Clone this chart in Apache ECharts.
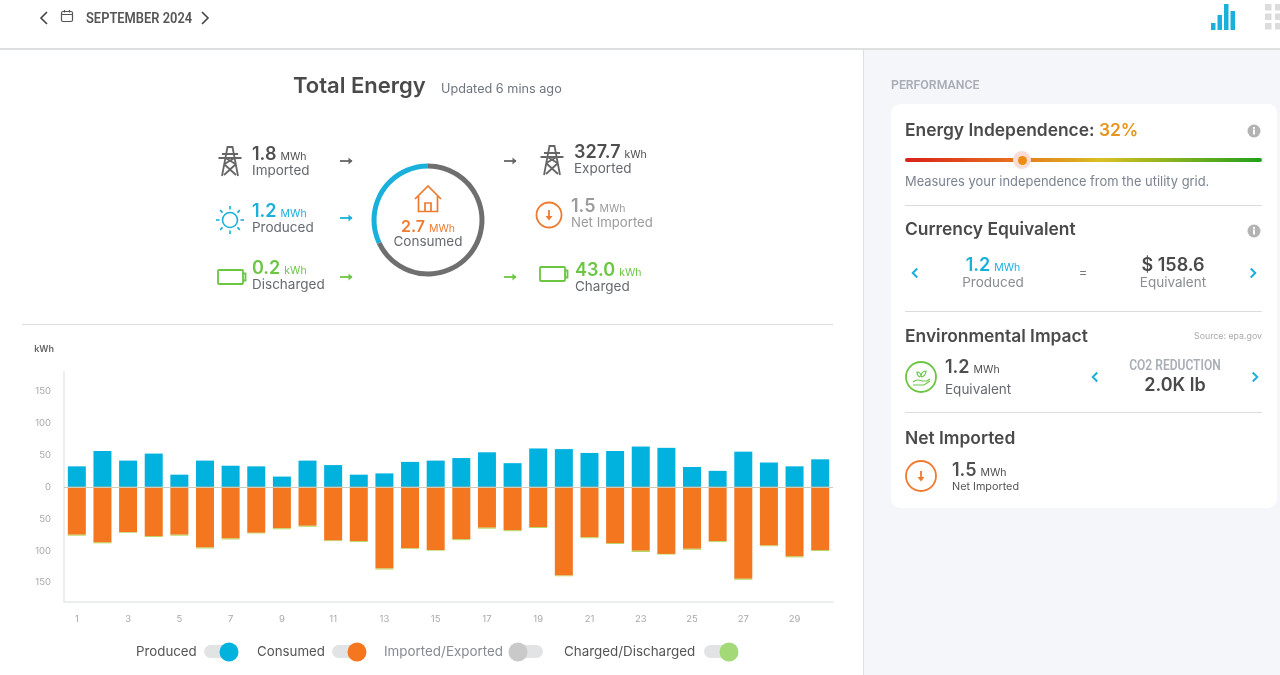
<!DOCTYPE html>
<html><head><meta charset="utf-8">
<script src="https://cdn.jsdelivr.net/npm/echarts@6/dist/echarts.min.js"></script>
<style>
html,body{margin:0;padding:0;width:1280px;height:675px;overflow:hidden;background:#fff;font-family:Inter,"Noto Sans",sans-serif}
.a{position:absolute}
.t{position:absolute;white-space:nowrap;line-height:1;z-index:3}
#chart{position:absolute;left:0;top:0;width:1280px;height:675px;z-index:2}
svg{position:absolute;overflow:visible;z-index:3;left:0;top:0}
.narrow{font-family:Roboto,sans-serif;font-weight:600}
</style></head><body>
<div class="a" style="left:863px;top:50px;width:417px;height:625px;background:#f4f6fa;border-left:1px solid #dcdfe3;box-sizing:border-box"></div>
<div class="a" style="left:0;top:48px;width:1280px;height:2px;background:#dedfe1"></div>
<div class="a" style="left:891px;top:104px;width:386px;height:404px;background:#fff;border-radius:9px"></div>
<div class="a" style="left:22px;top:324px;width:811px;height:1px;background:#dcdcdc"></div>
<div class="a" style="left:905px;top:205px;width:357px;height:1px;background:#dcdcdc"></div>
<div class="a" style="left:905px;top:311px;width:357px;height:1px;background:#dcdcdc"></div>
<div class="a" style="left:905px;top:412px;width:357px;height:1px;background:#dcdcdc"></div>
<div class="a" style="left:905px;top:158px;width:357px;height:4px;border-radius:2px;background:linear-gradient(90deg,#d9201c 0%,#e8701c 30%,#d8c022 55%,#21a01a 100%)"></div>
<div class="a" style="left:1013px;top:151px;width:18px;height:18px;border-radius:50%;background:#f9dcd4;z-index:1"></div>
<div class="a" style="left:1017.5px;top:155.5px;width:9px;height:9px;border-radius:50%;background:#ef8c14;z-index:1"></div>
<div id="chart"></div>
<svg id="icons" width="1280" height="675" fill="none"></svg>
<script>
const days = Array.from({length:30},(_, i)=>String(i+1));
const produced = [32,56,41,52,19,41,33,32,16,41,34,19,21,39,41,45,54,37,60,59,53,56,63,61,31,25,55,38,32,43];
const consumed = [75,87,71,77,75,95,81,72,65,61,84,85,128,96,99,82,64,68,63,139,79,88,100,105,97,85,144,92,109,99];
const charged  = [1.5,1.5,1,1.5,1.5,1.5,1.5,1,1.5,1.5,1,1.5,1.5,1,1,1.5,1.5,1.5,1.5,1,1.5,1.5,2,1,1.5,1.5,1.5,1,1.5,1.5];
const ringShares = [32,68];
const yLabelStep = 50;

const BLUE='#01b2de', ORANGE='#f4761f', GREEN='#b3d65c', DARK='#4a4a4a', MID='#666a70', CYAN='#1ab0dc', LIME='#6cc644', ORG='#ee7b30';

const chart = echarts.init(document.getElementById('chart'),null,{renderer:'canvas'});
chart.setOption({
  animation:false,
  grid:{left:64,right:447,top:371.8,bottom:73.2},
  xAxis:{type:'category',data:days,position:'bottom',
    axisLine:{onZero:false,lineStyle:{color:'#e6e7e9',width:1.5}},axisTick:{show:false},
    axisLabel:{interval:1,margin:12,fontSize:9.5,color:'#a9a9a9',fontFamily:'Inter'}},
  yAxis:{type:'value',min:-180,max:180,interval:10,name:'kWh',nameGap:18,
    nameTextStyle:{align:'right',padding:[0,10,0,0],fontSize:9,fontWeight:600,color:'#666',fontFamily:'Inter'},
    axisLine:{show:true,lineStyle:{color:'#e6e7e9',width:1.5}},axisTick:{show:false},splitLine:{show:false},
    axisLabel:{margin:13,fontSize:9.5,color:'#a9a9a9',fontFamily:'Inter',
      formatter:v=>v%yLabelStep===0?String(Math.abs(v)):''}},
  series:[
    {name:'Produced',type:'bar',stack:'e',barWidth:18,data:produced,itemStyle:{color:BLUE}},
    {name:'Consumed',type:'bar',stack:'e',barWidth:18,data:consumed.map(v=>-v),itemStyle:{color:ORANGE}},
    {name:'Charged/Discharged',type:'bar',stack:'e',barWidth:18,data:charged.map(v=>-v),itemStyle:{color:GREEN},
      markLine:{silent:true,symbol:'none',label:{show:false},lineStyle:{color:'#c8ccbc',width:1,type:'solid'},data:[{yAxis:0}]}},
    {name:'Share',type:'pie',center:[428,220],radius:[51.5,56.5],clockwise:false,startAngle:90,silent:true,
      label:{show:false},labelLine:{show:false},
      data:[{value:ringShares[0],itemStyle:{color:CYAN}},{value:ringShares[1],itemStyle:{color:'#6f6f6f'}}]}
  ]
});

function n(v,u,vs,us){return `<span style="font-size:${vs||18}px;font-weight:600">${v}</span><span style="font-size:${us||10.5}px;margin-left:4px">${u}</span>`;}
// x, centre-y, html, size, colour, anchor(l/c/r), weight, horizontal squeeze
const texts=[
 [86,18,'SEPTEMBER 2024',14,'#555','l',600,.92],
 [293,85,'Total Energy',22,DARK,'l',600],
 [441,88,'Updated 6 mins ago',12.7,'#6e7480','l',400],
 [252,154,n('1.8','MWh'),0,'#4f4f4f','l'],[252,170,'Imported',13.5,MID,'l'],
 [252,211,n('1.2','MWh'),0,CYAN,'l'],[252,227,'Produced',13.5,MID,'l'],
 [252,268,n('0.2','kWh'),0,LIME,'l'],[252,284,'Discharged',13.5,MID,'l'],
 [574,152,n('327.7','kWh'),0,'#4f4f4f','l'],[574,168,'Exported',13.5,MID,'l'],
 [571,206,n('1.5','MWh'),0,'#9b9b9b','l'],[571,222,'Net Imported',13.2,'#9b9b9b','l'],
 [575,270,n('43.0','kWh'),0,LIME,'l'],[575,286,'Charged',13.5,MID,'l'],
 [428,226,n('2.7','MWh',16,10.5),0,ORG,'c'],[428,241,'Consumed',13.5,MID,'c'],
 [136,651,'Produced',13.3,'#555','l'],[257,651,'Consumed',13.3,'#555','l'],
 [384,651,'Imported/Exported',13.4,'#868b92','l'],[564,651,'Charged/Discharged',13.4,'#555','l'],
 [891,84,'PERFORMANCE',13.5,'#a9aeb6','l',600,.91],
 [905,129,'Energy Independence: <span style="color:#e8951e">32%</span>',17.4,DARK,'l',600],
 [905,181,'Measures your independence from the utility grid.',12.9,'#7b8390','l'],
 [905,228,'Currency Equivalent',17.4,DARK,'l',600],
 [993,265,n('1.2','MWh'),0,CYAN,'c'],[993,282,'Produced',13.5,'#8a8d92','c'],
 [1083,272,'=',13,'#777','c'],
 [1173,265,'$ 158.6',18,DARK,'c',600],[1173,282,'Equivalent',13.5,'#8a8d92','c'],
 [905,335,'Environmental Impact',17.4,DARK,'l',600],
 [1262,335,'Source: epa.gov',8.8,'#aaa','r'],
 [945,367,n('1.2','MWh'),0,'#4f4f4f','l'],[945,389,'Equivalent',13.5,MID,'l'],
 [1175,365,'CO2 REDUCTION',14,'#a9aeb6','c',600,.86],
 [1175,385,'2.0K lb',18,DARK,'c',600],
 [905,437,'Net Imported',17.4,DARK,'l',600],
 [952,470,n('1.5','MWh'),0,'#4f4f4f','l'],[952,486,'Net Imported',10.8,'#555','l']
];
for(const [x,y,h,s,c,an,w,sq] of texts){
  const d=document.createElement('div');d.className='t'+(sq?' narrow':'');d.innerHTML=h;
  const yy=(s&&!Number.isInteger(s))?y+.7:y;
  d.style.left=x+'px';d.style.top=yy+'px';d.style.color=c;if(s)d.style.fontSize=s+'px';if(w)d.style.fontWeight=w;
  d.style.transformOrigin=an==='c'?'50% 50%':an==='r'?'100% 50%':'0 50%';
  d.style.transform=`translate(${an==='c'?'-50%':an==='r'?'-100%':'0'},-50%)`+(sq?` scaleX(${sq})`:'');
  document.body.appendChild(d);
}

const tower=(x,y,c)=>`<g transform="translate(${x},${y})" stroke="${c}" stroke-width="1.8"><path d="M-8 29 L-2.5 0 H2.5 L8 29 M-11.5 11 H11.5 M-8 7 H8 M-6 17 L6 28 M6 17 L-6 28 M-4.5 11 L5.5 17 M4.5 11 L-5.5 17"/></g>`;
const batt=(x,y,c)=>`<g transform="translate(${x},${y})" stroke="${c}" stroke-width="1.8"><rect x="0" y="0" width="25" height="14" rx="1"/><path d="M25 3.5 h2.5 v7 h-2.5"/></g>`;
const arrow=(x,y,c)=>`<path d="M${x} ${y} h12" stroke="${c}" stroke-width="1.8"/><path d="M${x+8.5} ${y-3.5} l4 3.5 l-4 3.5 z" fill="${c}"/>`;
const downCircle=(x,y,r,c)=>`<circle cx="${x}" cy="${y}" r="${r}" stroke="${c}" stroke-width="1.8"/><path d="M${x} ${y-5} v6" stroke="${c}" stroke-width="1.8"/><path d="M${x-3.5} ${y+1} h7 l-3.5 4.5 z" fill="${c}"/>`;
const chev=(x,y,d,c,s,w)=>`<path d="M${x-d*s/2} ${y-s} L${x+d*s/2} ${y} L${x-d*s/2} ${y+s}" stroke="${c}" stroke-width="${w}"/>`;
const info=(x,y)=>`<circle cx="${x}" cy="${y}" r="6.5" fill="#b3b3b3"/><rect x="${x-1}" y="${y-1.5}" width="2" height="5" fill="#fff"/><rect x="${x-1}" y="${y-4}" width="2" height="1.8" fill="#fff"/>`;
const toggle=(x,kx,c)=>`<rect x="${x}" y="645" width="34" height="13" rx="6.5" fill="#e2e3e5"/><circle cx="${kx}" cy="652" r="9.5" fill="${c}"/>`;
let sun='';for(let i=0;i<8;i++){const a=i*Math.PI/4;sun+=`<path d="M${230+Math.cos(a)*10.5} ${220+Math.sin(a)*10.5} L${230+Math.cos(a)*14} ${220+Math.sin(a)*14}" stroke="${CYAN}" stroke-width="1.6"/>`;}
let grid='';for(let i=0;i<2;i++)for(let j=0;j<3;j++)grid+=`<rect x="${1265+i*10}" y="${4+j*9.5}" width="6.5" height="6.5" fill="#dcdcdc"/>`;
document.getElementById('icons').innerHTML=[
 chev(44,18,-1,'#444',6,1.6),chev(205,18,1,'#444',6,1.6),
 `<rect x="61.5" y="11.5" width="11" height="10" rx="1.5" stroke="#555" stroke-width="1.2"/><path d="M61.5 14.5h11M64.5 10v2.5M69.5 10v2.5" stroke="#555" stroke-width="1.2"/>`,
 `<rect x="1211" y="23" width="4.5" height="7" fill="${CYAN}"/><rect x="1217.5" y="15" width="4.5" height="15" fill="${CYAN}"/><rect x="1224" y="4" width="4.5" height="26" fill="${CYAN}"/><rect x="1230.5" y="11" width="4.5" height="19" fill="${CYAN}"/>`,grid,
 tower(230,147,'#666'),tower(552,146,'#666'),
 `<circle cx="230" cy="220" r="7.5" stroke="${CYAN}" stroke-width="1.6"/>`,sun,
 batt(218,270,LIME),batt(540,267,LIME),
 arrow(340,161,'#666'),arrow(340,218,CYAN),arrow(340,277,LIME),arrow(504,161,'#666'),arrow(504,277,LIME),
 downCircle(549,215,12.5,ORG),
 `<path d="M415 199 L428 186 L441 199 M418.5 196 V211.5 H437.5 V196 M425 211.5 V203 H431 V211.5" stroke="${ORG}" stroke-width="1.7"/>`,
 toggle(204,229,BLUE),toggle(332,357,ORANGE),toggle(509,518,'#c9c9c9'),toggle(704,729,'#a3d977'),
 info(1254,131),info(1254,231),
 chev(915,273,-1,CYAN,4.5,2),chev(1253,273,1,CYAN,4.5,2),chev(1095,377,-1,CYAN,4.5,2),chev(1255,377,1,CYAN,4.5,2),
 `<circle cx="921" cy="377" r="15" stroke="${LIME}" stroke-width="1.8"/><path d="M913 382 c4 -3 6 -2 9 -1 h5 l3 -2 M913 385 h11 l6 -4 M920 377 c-3 -1 -3 -4 -3 -5 c3 0 4 2 4 5 c0 -4 2 -6 5 -6 c0 3 -2 6 -5 6" stroke="${LIME}" stroke-width="1.2"/>`,
 downCircle(921,476,15,ORG)
].join('');
</script>
</body></html>
